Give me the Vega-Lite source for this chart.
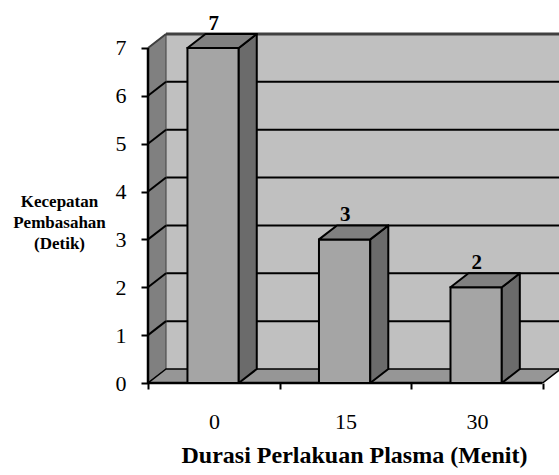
{
  "$schema": "https://vega.github.io/schema/vega-lite/v6.json",
  "autosize": "none",
  "padding": {"left": 148, "top": 24, "right": 0, "bottom": 92},
  "width": 411,
  "height": 359,
  "background": "white",
  "config": {"view": {"stroke": null}},
  "datasets": {
    "bars": [
      {"durasi": "0", "kecepatan": 7},
      {"durasi": "15", "kecepatan": 3},
      {"durasi": "30", "kecepatan": 2}
    ],
    "levels": [{"v": 0}, {"v": 1}, {"v": 2}, {"v": 3}, {"v": 4}, {"v": 5}, {"v": 6}, {"v": 7}],
    "depth": [{"d": 0}, {"d": 1}]
  },
  "layer": [
    {
      "data": {"name": "levels"},
      "transform": [
        {"filter": "datum.v == 7"},
        {"calculate": "0.137", "as": "bx"},
        {"calculate": "3.3", "as": "bx2"},
        {"calculate": "0.292", "as": "by"},
        {"calculate": "datum.v + 0.292", "as": "by2"}
      ],
      "mark": {"type": "rect", "fill": "#c0c0c0", "clip": true},
      "encoding": {
        "x": {"field": "bx", "type": "quantitative", "scale": {"domain": [0, 3.125], "nice": false, "zero": false},
          "axis": {"values": [0, 1, 2, 3], "domain": false, "grid": false, "tickSize": 6, "tickWidth": 2, "tickColor": "black",
            "labelExpr": "datum.value == 0 ? '0' : datum.value == 1 ? '15' : datum.value == 2 ? '30' : ''",
            "labelOffset": 66, "labelPadding": 22, "labelFont": "Liberation Serif", "labelFontSize": 22, "labelColor": "black",
            "labelBaseline": "top", "labelFlush": false, "labelOverlap": false,
            "title": "Durasi Perlakuan Plasma (Menit)", "titleFont": "Liberation Serif", "titleFontSize": 24, "titleFontWeight": "bold",
            "titleColor": "black", "titleBaseline": "top", "titleY": 60, "titleX": 206}},
        "x2": {"field": "bx2"},
        "y": {"field": "by", "type": "quantitative", "scale": {"domain": [0, 7.5], "nice": false, "zero": false},
          "axis": {"values": [0, 1, 2, 3, 4, 5, 6, 7], "domain": false, "grid": false, "tickSize": 7, "tickWidth": 2, "tickColor": "black",
            "labelPadding": 15, "labelFont": "Liberation Serif", "labelFontSize": 22, "labelColor": "black", "labelFlush": false,
            "title": ["Kecepatan", "Pembasahan", "(Detik)"], "titleFont": "Liberation Serif", "titleFontSize": 17, "titleFontWeight": "bold",
            "titleColor": "black", "titleAngle": 0, "titleAlign": "center", "titleBaseline": "top", "titleLineHeight": 21,
            "titleX": -89, "titleY": 169}},
        "y2": {"field": "by2"}
      }
    },
    {
      "data": {"name": "levels"},
      "transform": [
        {"filter": "datum.v >= 1 && datum.v <= 6"},
        {"calculate": "datum.v + 0.292", "as": "yb"},
        {"calculate": "0.137", "as": "gx"},
        {"calculate": "3.3", "as": "gx2"}
      ],
      "mark": {"type": "rule", "color": "black", "strokeWidth": 2, "clip": true},
      "encoding": {
        "x": {"field": "gx", "type": "quantitative"},
        "x2": {"field": "gx2"},
        "y": {"field": "yb", "type": "quantitative"}
      }
    },
    {
      "data": {"name": "levels"},
      "transform": [
        {"filter": "datum.v == 7"},
        {"calculate": "datum.v + 0.292", "as": "yb"},
        {"calculate": "0.137", "as": "gx"},
        {"calculate": "3.3", "as": "gx2"}
      ],
      "mark": {"type": "rule", "color": "#404040", "strokeWidth": 3, "clip": true},
      "encoding": {
        "x": {"field": "gx", "type": "quantitative"},
        "x2": {"field": "gx2"},
        "y": {"field": "yb", "type": "quantitative"}
      }
    },
    {
      "data": {"name": "depth"},
      "transform": [
        {"calculate": "datum.d * 0.137", "as": "wx"},
        {"calculate": "datum.d * 0.292", "as": "wy"},
        {"calculate": "7 + datum.d * 0.292", "as": "wy2"}
      ],
      "mark": {"type": "area", "orient": "vertical", "fill": "#808080", "stroke": "#404040", "strokeWidth": 1},
      "encoding": {
        "x": {"field": "wx", "type": "quantitative"},
        "y": {"field": "wy", "type": "quantitative"},
        "y2": {"field": "wy2"}
      }
    },
    {
      "data": {"name": "depth"},
      "transform": [
        {"calculate": "datum.d * 0.137", "as": "fx"},
        {"calculate": "3 + datum.d * 0.137", "as": "fx2"},
        {"calculate": "datum.d * 0.292", "as": "fy"}
      ],
      "mark": {"type": "area", "orient": "horizontal", "fill": "#969696", "stroke": "black", "strokeWidth": 1.5, "clip": true},
      "encoding": {
        "y": {"field": "fy", "type": "quantitative"},
        "x": {"field": "fx", "type": "quantitative"},
        "x2": {"field": "fx2"}
      }
    },
    {
      "data": {"name": "levels"},
      "transform": [
        {"filter": "datum.v >= 1 && datum.v <= 6"},
        {"calculate": "0", "as": "lx"},
        {"calculate": "0.137", "as": "lx2"},
        {"calculate": "datum.v + 0.292", "as": "ly2"}
      ],
      "mark": {"type": "rule", "color": "black", "strokeWidth": 2},
      "encoding": {
        "x": {"field": "lx", "type": "quantitative"},
        "x2": {"field": "lx2"},
        "y": {"field": "v", "type": "quantitative"},
        "y2": {"field": "ly2"}
      }
    },
    {
      "data": {"name": "levels"},
      "transform": [
        {"filter": "datum.v == 7"},
        {"calculate": "0", "as": "ax"},
        {"calculate": "0.137", "as": "ax2"},
        {"calculate": "datum.v + 0.292", "as": "ay2"}
      ],
      "mark": {"type": "rule", "color": "#404040", "strokeWidth": 2},
      "encoding": {
        "x": {"field": "ax", "type": "quantitative"},
        "x2": {"field": "ax2"},
        "y": {"field": "v", "type": "quantitative"},
        "y2": {"field": "ay2"}
      }
    },
    {
      "data": {"name": "levels"},
      "transform": [
        {"filter": "datum.v == 7"},
        {"calculate": "0", "as": "ax"},
        {"calculate": "0", "as": "ay"}
      ],
      "mark": {"type": "rule", "color": "black", "strokeWidth": 2.5},
      "encoding": {
        "x": {"field": "ax", "type": "quantitative"},
        "y": {"field": "ay", "type": "quantitative"},
        "y2": {"field": "v"}
      }
    },
    {
      "data": {"name": "levels"},
      "transform": [
        {"filter": "datum.v == 0"},
        {"calculate": "0", "as": "ax"},
        {"calculate": "3", "as": "ax2"}
      ],
      "mark": {"type": "rule", "color": "black", "strokeWidth": 2.5},
      "encoding": {
        "x": {"field": "ax", "type": "quantitative"},
        "x2": {"field": "ax2"},
        "y": {"field": "v", "type": "quantitative"}
      }
    },
    {
      "data": {"name": "bars"},
      "transform": [
        {"window": [{"op": "row_number", "as": "rn"}]},
        {"calculate": "datum.rn - 1 + 0.3", "as": "x0"},
        {"calculate": "datum.rn - 1 + 0.69", "as": "x1"},
        {"calculate": "0", "as": "base"}
      ],
      "mark": {"type": "rect", "fill": "#a5a5a5", "stroke": "black", "strokeWidth": 2},
      "encoding": {
        "x": {"field": "x0", "type": "quantitative"},
        "x2": {"field": "x1"},
        "y": {"field": "base", "type": "quantitative"},
        "y2": {"field": "kecepatan"}
      }
    },
    {
      "data": {"name": "bars"},
      "transform": [
        {"window": [{"op": "row_number", "as": "rn"}]},
        {"calculate": "[0, 1]", "as": "d"},
        {"flatten": ["d"]},
        {"calculate": "datum.rn - 1 + 0.69 + datum.d * 0.137", "as": "sx"},
        {"calculate": "datum.kecepatan + datum.d * 0.292", "as": "sy"},
        {"calculate": "datum.d * 0.292", "as": "sy2"}
      ],
      "mark": {"type": "area", "orient": "vertical", "fill": "#6b6b6b", "stroke": "black", "strokeWidth": 2, "strokeJoin": "round"},
      "encoding": {
        "detail": {"field": "durasi", "type": "nominal"},
        "x": {"field": "sx", "type": "quantitative"},
        "y": {"field": "sy", "type": "quantitative"},
        "y2": {"field": "sy2"}
      }
    },
    {
      "data": {"name": "bars"},
      "transform": [
        {"window": [{"op": "row_number", "as": "rn"}]},
        {"calculate": "[0, 1]", "as": "d"},
        {"flatten": ["d"]},
        {"calculate": "datum.rn - 1 + 0.3 + datum.d * 0.137", "as": "tx"},
        {"calculate": "datum.rn - 1 + 0.69 + datum.d * 0.137", "as": "tx2"},
        {"calculate": "datum.kecepatan + datum.d * 0.292", "as": "ty"}
      ],
      "mark": {"type": "area", "orient": "horizontal", "fill": "#808080", "stroke": "black", "strokeWidth": 2, "strokeJoin": "round"},
      "encoding": {
        "detail": {"field": "durasi", "type": "nominal"},
        "y": {"field": "ty", "type": "quantitative"},
        "x": {"field": "tx", "type": "quantitative"},
        "x2": {"field": "tx2"}
      }
    },
    {
      "data": {"name": "bars"},
      "transform": [
        {"window": [{"op": "row_number", "as": "rn"}]},
        {"calculate": "datum.rn - 1 + 0.5", "as": "lx"},
        {"calculate": "datum.kecepatan + 0.292", "as": "ly"}
      ],
      "mark": {"type": "text", "baseline": "bottom", "dy": 0, "font": "Liberation Serif", "fontSize": 21, "fontWeight": "bold", "color": "black"},
      "encoding": {
        "x": {"field": "lx", "type": "quantitative"},
        "y": {"field": "ly", "type": "quantitative"},
        "text": {"field": "kecepatan", "type": "quantitative"}
      }
    }
  ]
}
